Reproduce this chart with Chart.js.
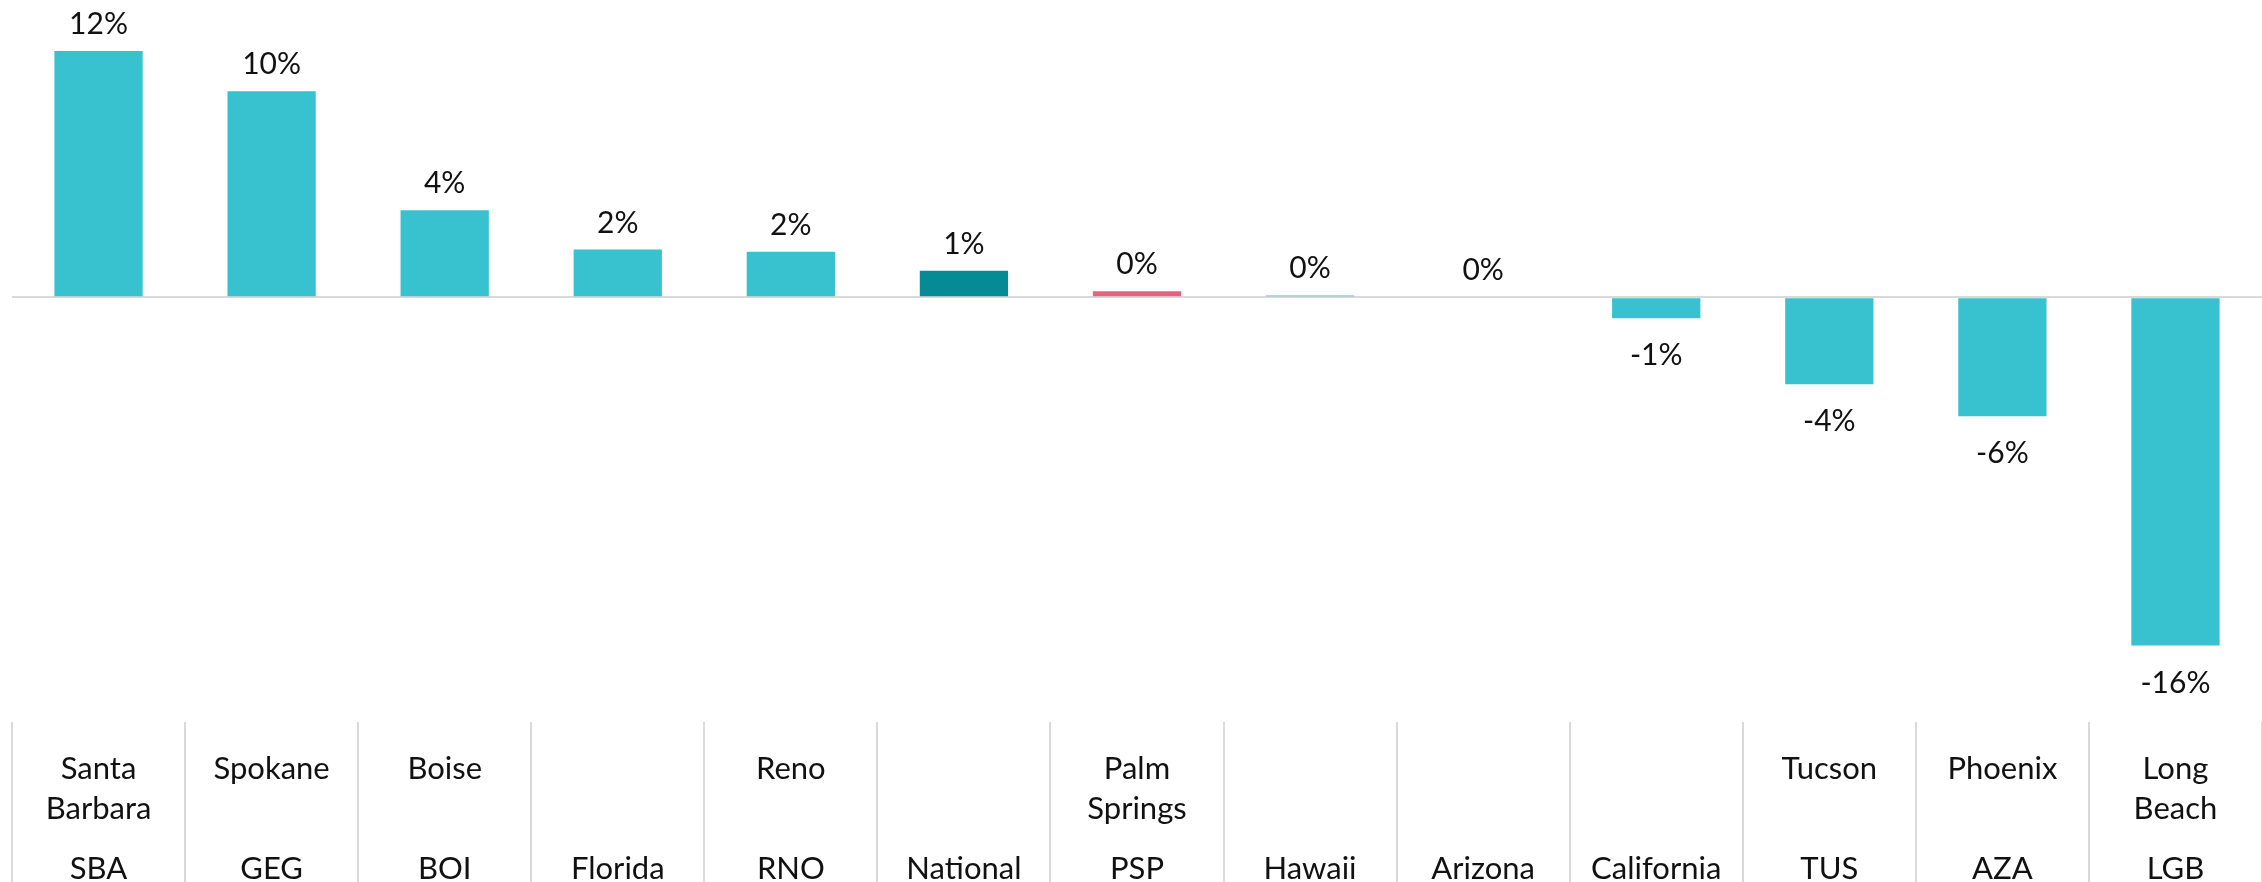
<!DOCTYPE html>
<html>
<head>
    <title>Change by market</title>
    <script src="https://cdn.jsdelivr.net/npm/chart.js@4.4.2/dist/chart.umd.min.js"></script>
    <style>
        html, body {
            margin: 0;
            background: #fff;
        }
        #chart-container {
            width: 2262px;
            height: 882px;
        }
    </style>
</head>
<body>
    <div id="chart-container">
        <canvas id="marketChart"></canvas>
    </div>
    <script>
        // categories: market name (up to two lines) and the code / region underneath
        const marketNames = [
            ['Santa', 'Barbara'], ['Spokane', ''], ['Boise', ''], ['', ''], ['Reno', ''],
            ['', ''], ['Palm', 'Springs'], ['', ''], ['', ''], ['', ''],
            ['Tucson', ''], ['Phoenix', ''], ['Long', 'Beach']
        ];
        const marketCodes = [
            'SBA', 'GEG', 'BOI', 'Florida', 'RNO', 'National', 'PSP',
            'Hawaii', 'Arizona', 'California', 'TUS', 'AZA', 'LGB'
        ];
        // percent change
        const changes = [11.6, 9.7, 4.1, 2.25, 2.15, 1.25, 0.28, 0.09, 0, -0.99, -4.1, -5.6, -16.4];

        const barColor = '#38c2cf';
        const nationalColor = '#058b96';
        const highlightColor = '#e5637f';
        const lineColor = '#d9d9d9';
        const fontFamily = 'Lato, "Noto Sans", sans-serif';

        // 20px line slots: name on slot 0 and 2, code on slot 5, blank slots pad the axis height
        const labels = marketNames.map((name, i) => [
            name[0], '', name[1], '', '', marketCodes[i],
            '', '', '', '', '', '', ''
        ]);
        const colors = marketCodes.map(code => {
            if (code === 'National') return nationalColor;
            if (code === 'PSP') return highlightColor;
            return barColor;
        });

        // draw the rounded value above positive bars and below negative ones
        const valueLabels = {
            id: 'valueLabels',
            afterDatasetsDraw(chart) {
                const ctx = chart.ctx;
                const meta = chart.getDatasetMeta(0);
                ctx.save();
                ctx.font = '30px ' + fontFamily;
                ctx.fillStyle = '#111';
                ctx.textAlign = 'center';
                ctx.textBaseline = 'alphabetic';
                meta.data.forEach((bar, i) => {
                    const v = changes[i];
                    const text = Math.round(v) + '%';
                    const y = v >= 0 ? bar.y - 17 : bar.y + 47;
                    ctx.fillText(text, bar.x, y);
                });
                ctx.restore();
            }
        };

        new Chart(document.getElementById('marketChart'), {
            type: 'bar',
            data: {
                labels: labels,
                datasets: [{
                    data: changes,
                    backgroundColor: colors,
                    barPercentage: 0.51,
                    categoryPercentage: 1.0
                }]
            },
            options: {
                responsive: true,
                maintainAspectRatio: false,
                animation: false,
                layout: {
                    padding: { left: 12, right: 0, top: 0, bottom: 0 }
                },
                scales: {
                    x: {
                        border: { display: false },
                        grid: {
                            drawOnChartArea: false,
                            tickLength: 173,
                            color: lineColor,
                            lineWidth: 2
                        },
                        ticks: {
                            padding: -136.5,
                            maxRotation: 0,
                            autoSkip: false,
                            color: '#111',
                            font: { family: fontFamily, size: 31, lineHeight: '20px' }
                        }
                    },
                    y: {
                        min: -20,
                        max: 14,
                        border: { display: false },
                        grid: {
                            drawTicks: false,
                            color: ctx => ctx.tick.value === 0 ? lineColor : 'rgba(0,0,0,0)',
                            lineWidth: 2
                        },
                        ticks: { display: false, stepSize: 2 }
                    }
                },
                plugins: {
                    legend: { display: false },
                    tooltip: { enabled: false }
                }
            },
            plugins: [valueLabels]
        });
    </script>
</body>
</html>
